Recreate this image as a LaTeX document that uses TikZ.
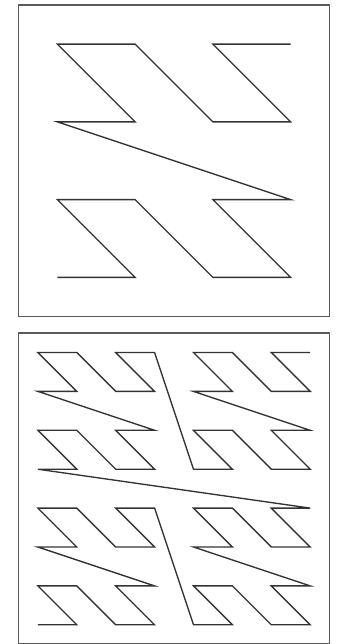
\documentclass[tikz,border=0pt]{standalone}
\begin{document}
\begin{tikzpicture}[x=1pt,y=-1pt,
  frame/.style={draw=black!65, line width=1.7pt},
  curve/.style={draw=black!80, line width=1.35pt}]
\useasboundingbox (0,0) rectangle (337,644);
% top square, 4x4 Morton curve
\draw[frame] (18.5,5) rectangle (329.5,316.5);
\draw[curve] (57.4,277.4)
  \foreach \i [evaluate=\i as \xx using {int(mod(\i,2)+2*mod(int(\i/4),2))},
               evaluate=\i as \yy using {int(mod(int(\i/2),2)+2*mod(int(\i/8),2))}] in {1,...,15}
  { -- ({57.4+77.75*\xx},{277.4-77.75*\yy}) };
% bottom square, 8x8 Morton curve
\draw[frame] (18.5,332.8) rectangle (329.5,643.8);
\draw[curve] (37.9,624.8)
  \foreach \i [evaluate=\i as \xx using {int(mod(\i,2)+2*mod(int(\i/4),2)+4*mod(int(\i/16),2))},
               evaluate=\i as \yy using {int(mod(int(\i/2),2)+2*mod(int(\i/8),2)+4*mod(int(\i/32),2))}] in {1,...,63}
  { -- ({37.9+38.9*\xx},{624.8-38.9*\yy}) };
\end{tikzpicture}
\end{document}
